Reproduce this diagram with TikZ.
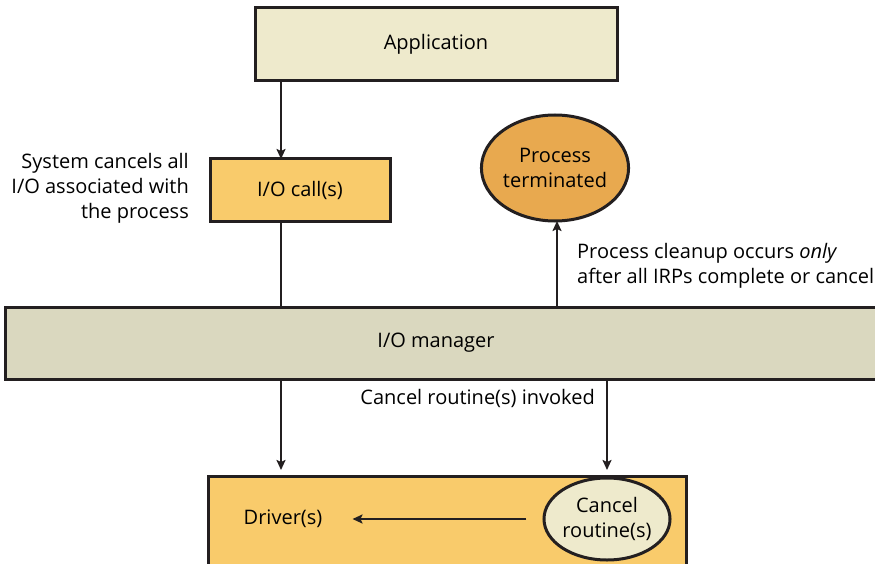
\documentclass[tikz,border=0pt]{standalone}
\usepackage{fontspec}
\setmainfont{Open Sans}
\usetikzlibrary{arrows.meta,shapes.geometric}

\definecolor{cream}{HTML}{EEEACC}
\definecolor{gold}{HTML}{F9CB6B}
\definecolor{amber}{HTML}{E8A94F}
\definecolor{khaki}{HTML}{DAD8BF}
\definecolor{ink}{HTML}{231F20}

\tikzset{
  box/.style={draw=ink, line width=3pt, rectangle, inner sep=0pt, font=\fontsize{20}{24}\selectfont},
  oval/.style={draw=ink, line width=3pt, ellipse, inner sep=0pt, align=center,
               font=\fontsize{20}{25}\selectfont},
  note/.style={inner sep=0pt, font=\fontsize{20}{25}\selectfont},
  wire/.style={draw=ink, line width=2.3pt},
  flow/.style={wire, -{Stealth[length=10pt,width=9pt,inset=2pt]}},
}

\begin{document}
\begin{tikzpicture}[x=1pt,y=-1pt]
  \useasboundingbox (0,0) rectangle (875,564);
  \clip (0,0) rectangle (875,564);

  % upper boxes
  \node[box, fill=cream, minimum width=362pt, minimum height=73pt] (app) at (436,44.5) {Application};
  \node[box, fill=gold, minimum width=180pt, minimum height=62pt] (iocall) at (300,190) {I/O call(s)};
  \node[oval, fill=amber, minimum width=142pt, minimum height=106pt] (proc) at (555,168) {Process\\terminated};

  % I/O manager band runs past the right edge
  \node[box, fill=khaki, minimum width=874pt, minimum height=72pt] (iomgr) at (442,343) {};
  \node[note] (iomgrtext) at (436,343) {I/O manager};

  % driver box runs past the bottom edge
  \node[box, fill=gold, minimum width=478pt, minimum height=100pt, anchor=north west] (drv) at (207,475) {};
  \node[note] (drvtext) at (283,519) {Driver(s)};
  \node[oval, fill=cream, minimum width=120pt, minimum height=82pt] (cancel) at (607,519) {Cancel\\routine(s)};

  % notes
  \node[note, align=right, anchor=east] (sysnote) at (189,188) {System cancels all\\I/O associated with\\the process};
  \node[note, align=left, anchor=west] (cleannote) at (577,266) {Process cleanup occurs \emph{only}\\after all IRPs complete or cancel};
  \node[note, anchor=east] (invnote) at (595,398) {Cancel routine(s) invoked};

  % connectors
  \coordinate (appout) at (281,81);
  \coordinate (callin) at (281,159);
  \coordinate (callout) at (281,221);
  \coordinate (mgrtopL) at (281,307);
  \coordinate (mgrtopR) at (557,307);
  \coordinate (procin) at (557,221);
  \coordinate (mgrbotL) at (281,379);
  \coordinate (mgrbotR) at (607,379);
  \coordinate (drvinL) at (281,470);
  \coordinate (drvinR) at (607,470);

  \draw[flow] (appout) -- (callin);
  \draw[wire] (callout) -- (mgrtopL);
  \draw[flow] (mgrtopR) -- (procin);
  \draw[flow] (mgrbotL) -- (drvinL);
  \draw[flow] (mgrbotR) -- (drvinR);
  \draw[flow, shorten <=16pt, shorten >=30pt] (cancel.west) -- (drvtext.east);
\end{tikzpicture}
\end{document}
